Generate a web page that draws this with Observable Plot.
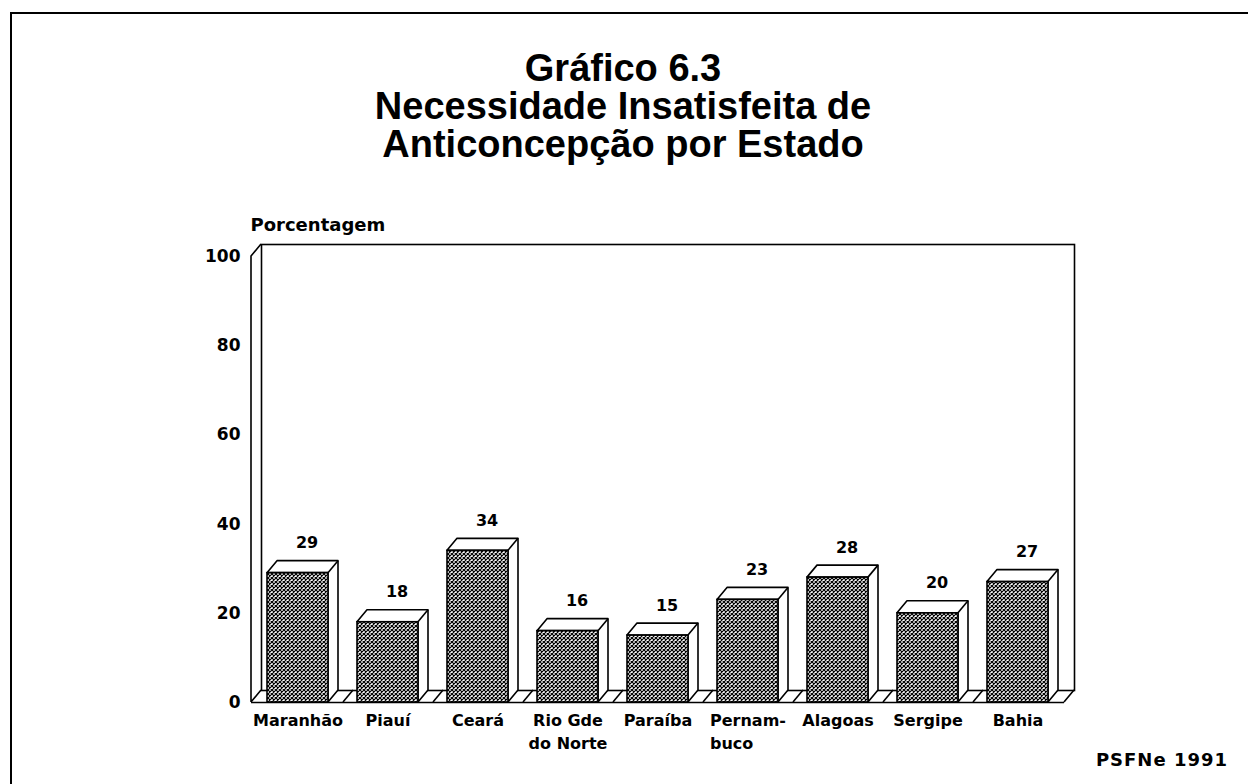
<!DOCTYPE html>
<html><head><meta charset="utf-8">
<script src="https://cdn.jsdelivr.net/npm/d3@7"></script>
<script src="https://cdn.jsdelivr.net/npm/@observablehq/plot@0.6"></script>
<style>
body{margin:0;background:#fff;}
#page{position:relative;width:1248px;height:784px;overflow:hidden;background:#fff;}
#bt{position:absolute;left:10px;top:12px;width:1238px;height:2px;background:#000}
#bl{position:absolute;left:10px;top:12px;width:2px;height:772px;background:#000}
#title{position:absolute;left:0;top:49px;width:1246px;text-align:center;font:bold 38px/38px "Liberation Sans",Arial,sans-serif;color:#000}
#chart{position:absolute;left:0;top:190px}
#foot{position:absolute;right:20px;top:749px;font:bold 18px "DejaVu Sans",sans-serif;letter-spacing:1px;color:#000}
</style></head><body>
<div id="page">
  <div id="bt"></div><div id="bl"></div>
  <div id="title">Gráfico 6.3<br>Necessidade Insatisfeita de<br>Anticoncepção por Estado</div>
  <div id="chart"></div>
  <div id="foot">PSFNe 1991</div>
</div>
<script>
const states = ["Maranhão","Piauí","Ceará","Rio Gde do Norte","Paraíba","Pernambuco","Alagoas","Sergipe","Bahia"];
const labels = ["Maranhão","Piauí","Ceará","Rio Gde\ndo Norte","Paraíba","Pernam-\nbuco","Alagoas","Sergipe","Bahia"];
const values = [29,18,34,16,15,23,28,20,27];
const yTicks = [0,20,40,60,80,100];
const yLabel = "Porcentagem";
const leftAligned = ["Pernambuco"];

const data = states.map((s,i) => ({state: s, label: labels[i], value: values[i]}));
const DX = 10, DY = -12, SW = 1.6;

function room(index, scales) {
  const x = scales.x, y = scales.y;
  const g = d3.create("svg:g");
  const pat = g.append("defs").append("pattern").attr("id","hatch")
    .attr("patternUnits","userSpaceOnUse").attr("width",4).attr("height",4);
  pat.append("rect").attr("width",4).attr("height",4).attr("fill","#fff");
  pat.append("path").attr("d","M-1,-1L5,5M5,-1L-1,5").attr("stroke","#000").attr("stroke-width",1.2);
  const [xl, xr] = x.range();
  const y0 = y(0), yT = y(100);
  const lines = g.append("g").attr("stroke","#000").attr("stroke-width",SW).attr("fill","none");
  lines.append("path").attr("d",
    `M${xl},${y0}L${xl},${yT}L${xl+DX},${yT+DY}M${xl},${y0}L${xl+DX},${y0+DY}M${xr},${y0}L${xr+DX},${y0+DY}`);
  data.forEach((d,i) => {
    if (i === 0) return;
    const x1 = x(d.state);
    lines.append("path").attr("d", `M${x1-14},${y0}L${x1-14+DX},${y0+DY}`);
  });
  return g.node();
}

function faces(index, scales) {
  const x = scales.x, y = scales.y;
  const bw = x.bandwidth();
  const g = d3.create("svg:g").attr("fill","#fff").attr("stroke","#000")
    .attr("stroke-width",SW).attr("stroke-linejoin","round");
  data.forEach(d => {
    const x1 = x(d.state), x2 = x1 + bw, yt = y(d.value), yb = y(0);
    g.append("path").attr("d",
      `M${x1},${yt}L${x1+DX},${yt+DY}L${x2+DX},${yt+DY}L${x2+DX},${yb+DY}L${x2},${yb}L${x2},${yt}Z`);
    g.append("path").attr("fill","none").attr("d", `M${x2},${yt}L${x2+DX},${yt+DY}`);
  });
  return g.node();
}

const chart = Plot.plot({
  width: 1248, height: 594,
  marginLeft: 251, marginRight: 184, marginTop: 66, marginBottom: 82,
  x: {type: "band", domain: states, paddingInner: 0.325, paddingOuter: 0.16, axis: null},
  y: {domain: [0, 100], axis: null},
  style: {fontFamily: "'DejaVu Sans', sans-serif", fontWeight: "bold", background: "transparent", color: "#000"},
  marks: [
    room,
    Plot.frame({stroke: "#000", strokeWidth: SW, dx: DX, dy: DY}),
    Plot.ruleY([0], {stroke: "#000", strokeWidth: SW}),
    faces,
    Plot.barY(data, {x: "state", y: "value", fill: "url(#hatch)", stroke: "#000", strokeWidth: SW}),
    Plot.axisY(yTicks, {tickSize: 0, tickPadding: 11, fontSize: 17, fontWeight: "bold", label: null}),
    Plot.text([yLabel], {text: d => d, frameAnchor: "top-left", textAnchor: "start", dx: -1, dy: -38, fontSize: 18, fontWeight: "bold"}),
    Plot.text(data, {x: "state", y: "value", text: d => String(d.value), dx: 9, dy: -30, fontSize: 16, fontWeight: "bold"}),
    Plot.text(data, {filter: d => !leftAligned.includes(d.state), x: "state", text: "label", frameAnchor: "bottom", lineAnchor: "top", dy: 7, fontSize: 16, lineHeight: 1.45, fontWeight: "bold"}),
    Plot.text(data, {filter: d => leftAligned.includes(d.state), x: "state", text: "label", frameAnchor: "bottom", lineAnchor: "top", textAnchor: "start", dx: -38, dy: 7, fontSize: 16, lineHeight: 1.45, fontWeight: "bold"})
  ]
});
document.getElementById("chart").appendChild(chart);
</script>
</body></html>
